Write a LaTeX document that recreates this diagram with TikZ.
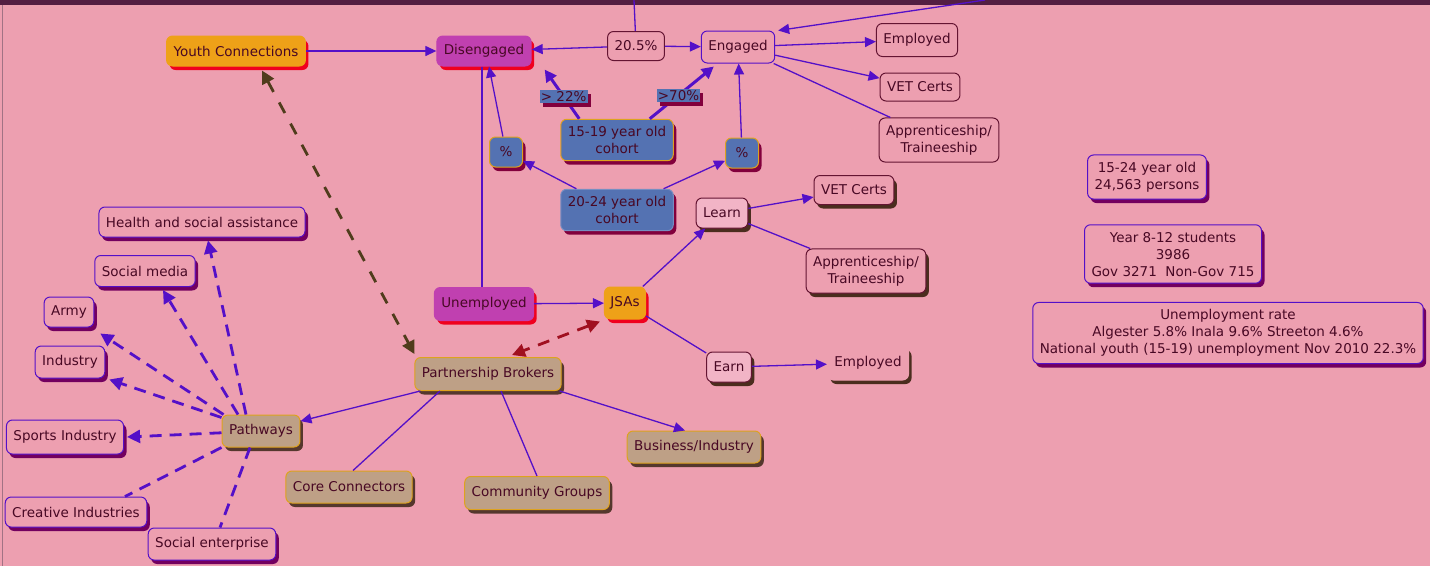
\documentclass[tikz,border=0pt]{standalone}
\usepackage{fontspec}
\setmainfont{DejaVu Sans}
\usetikzlibrary{arrows.meta,shadows}

\definecolor{bgpink}{RGB}{237,159,176}
\definecolor{topbar}{RGB}{84,30,66}
\definecolor{youthorange}{RGB}{238,161,24}
\definecolor{magfill}{RGB}{192,64,176}
\definecolor{shred}{RGB}{240,0,30}
\definecolor{cohortblue}{RGB}{84,114,178}
\definecolor{cohortshadow}{RGB}{130,0,60}
\definecolor{goldline}{RGB}{222,162,30}
\definecolor{tanfill}{RGB}{190,160,134}
\definecolor{tanshadow}{RGB}{85,55,45}
\definecolor{linkviolet}{RGB}{84,16,200}
\definecolor{maroonline}{RGB}{100,20,50}
\definecolor{darkshadow}{RGB}{75,45,30}
\definecolor{purpleshadow}{RGB}{115,0,95}
\definecolor{txtred}{RGB}{72,8,36}
\definecolor{dashred}{RGB}{160,16,32}
\definecolor{dasholive}{RGB}{80,60,28}
\definecolor{lightpink}{RGB}{242,180,198}

\tikzset{
  box/.style={rounded corners=6pt, draw, line width=1pt, minimum height=30pt,
    inner xsep=7pt, inner ysep=3pt, align=center, text=txtred,
    font=\fontsize{13.5}{17}\selectfont},
  tall/.style={inner ysep=7pt},
  shade/.style={drop shadow={shadow xshift=3pt, shadow yshift=-4pt, fill=#1, opacity=1}},
  orangebox/.style={box, fill=youthorange, draw=youthorange, shade=shred},
  magbox/.style={box, fill=magfill, draw=magfill, shade=shred},
  cohort/.style={box, fill=cohortblue, draw=goldline, shade=cohortshadow},
  tanbox/.style={box, fill=tanfill, draw=goldline, shade=tanshadow},
  plainbox/.style={box, fill=bgpink, draw=maroonline},
  darkbox/.style={box, fill=lightpink, draw=maroonline, shade=darkshadow},
  violetbox/.style={box, fill=bgpink, draw=linkviolet, shade=purpleshadow},
  lbl/.style={fill=cohortblue, inner sep=1.2pt, text=txtred,
    font=\fontsize{13.5}{14}\selectfont, shade=cohortshadow},
  link/.style={draw=linkviolet, line width=1.3pt},
  arr/.style={link, -{Triangle[length=11pt,width=10pt]}},
  thkarr/.style={draw=linkviolet, line width=3pt, -{Triangle[length=12pt,width=12pt]}},
  dline/.style={draw=linkviolet, line width=2.8pt, dash pattern=on 12pt off 8pt},
  darr/.style={dline, -{Triangle[length=13pt,width=13pt]}}
}

\begin{document}
\begin{tikzpicture}[x=1pt, y=-1pt]
\useasboundingbox (0,0) rectangle (1430,566);
\fill[bgpink] (0,0) rectangle (1430,566);
\fill[topbar] (0,0) rectangle (1430,5);
\draw[maroonline!60, line width=1pt] (2,5) -- (2,566);

\node[orangebox] (yc) at (236,51) {Youth Connections};
\node[magbox] (dis) at (484,51) {Disengaged};
\node[plainbox, minimum height=29pt] (pct) at (636,46) {20.5\%};
\node[box, fill=bgpink, draw=linkviolet, minimum height=32pt] (eng) at (738,47) {Engaged};
\node[plainbox, minimum height=33pt] (emp1) at (917,40) {Employed};
\node[plainbox, minimum height=28pt] (vet1) at (920,87) {VET Certs};
\node[plainbox, tall] (app1) at (939,140) {Apprenticeship/\\Traineeship};

\node[cohort, tall] (c1519) at (617,140) {15-19 year old\\cohort};
\node[cohort, minimum width=33pt] (pl) at (506,152) {\%};
\node[cohort, minimum width=33pt] (pr) at (742,153) {\%};
\node[cohort, tall, draw=cohortblue!80!white] (c2024) at (617,210) {20-24 year old\\cohort};

\node[darkbox] (learn) at (722,213) {Learn};
\node[darkbox, fill=bgpink, minimum height=29pt] (vet2) at (854,190) {VET Certs};
\node[darkbox, tall, fill=bgpink] (app2) at (866,271) {Apprenticeship/\\Traineeship};
\node[magbox, minimum height=33pt] (un) at (484,304) {Unemployed};
\node[orangebox, inner xsep=6pt, minimum height=32pt] (jsa) at (625,303) {JSAs};
\node[darkbox] (earn) at (729,367) {Earn};
\node[darkbox, fill=bgpink, draw=bgpink, minimum height=34pt] (emp2) at (868,363) {Employed};

\node[tanbox, minimum height=33pt] (pb) at (488,374) {Partnership Brokers};
\node[tanbox, minimum height=32pt] (pw) at (261,431) {Pathways};
\node[tanbox, minimum height=32pt] (cc) at (349,487) {Core Connectors};
\node[tanbox, minimum height=33pt] (cg) at (537,493) {Community Groups};
\node[tanbox, minimum height=32pt] (bi) at (694,447) {Business/Industry};

\node[violetbox] (hs) at (202,222) {Health and social assistance};
\node[violetbox, minimum height=31pt] (sm) at (145,271) {Social media};
\node[violetbox] (army) at (69,312) {Army};
\node[violetbox, minimum height=32pt] (ind) at (70,362) {Industry};
\node[violetbox, minimum height=34pt] (si) at (65,437) {Sports Industry};
\node[violetbox] (ci) at (76,512) {Creative Industries};
\node[violetbox, minimum height=32pt] (se) at (212,544) {Social enterprise};

\node[violetbox, tall] (pop) at (1147,177) {15-24 year old\\24,563 persons};
\node[violetbox, tall] (stud) at (1173,254) {Year 8-12 students\\3986\\Gov 3271\ \ Non-Gov 715};
\node[violetbox, tall] (rate) at (1228,333) {Unemployment rate\\Algester 5.8\% Inala 9.6\% Streeton 4.6\%\\National youth (15-19) unemployment Nov 2010 22.3\%};

\coordinate (topm) at (634,0);
\coordinate (topr) at (985,0);

\draw[arr] (yc) -- (dis);
\draw[arr] (pct) -- (dis);
\draw[arr] (pct) -- (eng);
\draw[link] (topm) -- (pct);
\draw[arr] (topr) -- ([xshift=3pt]eng.north east);
\draw[arr] (eng) -- (emp1);
\draw[arr] (eng) -- (vet1);
\draw[link] (eng) -- (app1);
\draw[thkarr] ([xshift=19pt]c1519.north west) -- node[lbl, pos=0.45] {> 22\%} ([xshift=13pt,yshift=-3pt]dis.south east);
\draw[thkarr] ([xshift=-24pt]c1519.north east) -- node[lbl, pos=0.45] {>70\%} ([xshift=13pt,yshift=-3pt]eng.south west);
\draw[arr] (pl) -- ([xshift=5pt]dis.south);
\draw[arr] (c2024) -- (pl);
\draw[arr] (c2024) -- (pr);
\draw[arr] (pr) -- (eng);
\draw[link] ([xshift=-2pt]dis.south) -- ([xshift=-2pt]un.north);
\draw[arr] (un) -- (jsa);
\draw[arr] (jsa) -- (learn);
\draw[arr] (learn) -- (vet2);
\draw[link] (learn) -- (app2);
\draw[link] (jsa) -- (earn);
\draw[arr] (earn) -- (emp2);

\draw[draw=dashred, line width=2.8pt, dash pattern=on 12pt off 9pt, {Triangle[length=13pt,width=13pt]}-{Triangle[length=13pt,width=13pt]}] ([xshift=-4pt,yshift=-2pt]jsa.south west) -- ([xshift=24pt,yshift=2pt]pb.north);
\draw[draw=dasholive, line width=2.8pt, dash pattern=on 12pt off 12pt, {Triangle[length=13pt,width=13pt]}-{Triangle[length=13pt,width=13pt]}] ([xshift=26pt,yshift=-4pt]yc.south) -- ([yshift=3pt]pb.north west);

\draw[arr] (pb) -- (pw);
\draw[link] ([xshift=-48pt]pb.south) -- ([xshift=4pt]cc.north);
\draw[link] ([xshift=13pt]pb.south) -- (cg.north);
\draw[arr] ([xshift=-2pt]pb.south east) -- ([xshift=-9pt]bi.north);

\draw[darr] ([xshift=-15pt]pw.north) -- ([xshift=6pt,yshift=-3pt]hs.south);
\draw[darr] ([xshift=-23pt]pw.north) -- ([xshift=18pt,yshift=-3pt]sm.south);
\draw[darr] ([xshift=2pt]pw.north west) -- ([xshift=6pt,yshift=-6pt]army.south east);
\draw[darr] ([yshift=-3pt]pw.north west) -- ([xshift=4pt,yshift=-1pt]ind.south east);
\draw[darr] (pw) -- ([xshift=3pt]si.east);
\draw[dline] (pw.south west) -- ([xshift=49pt]ci.north);
\draw[dline] ([xshift=-11pt]pw.south) -- ([xshift=8pt]se.north);
\end{tikzpicture}
\end{document}
